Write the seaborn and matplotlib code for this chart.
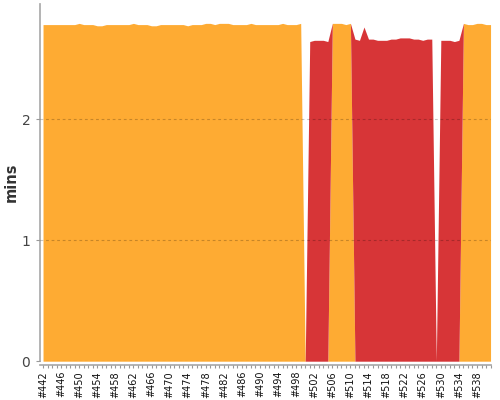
import numpy as np
import pandas as pd
import matplotlib
matplotlib.use("Agg")
import matplotlib.pyplot as plt
import seaborn as sns

sns.set_theme(style="white")
plt.rcParams["font.family"] = ["DejaVu Sans"]

# ── Build data (#442 .. #541) ──────────────────────────
builds = list(range(442, 542))

# duration in minutes
durations = (
    [2.78, 2.78, 2.78, 2.78, 2.78, 2.78, 2.78, 2.78, 2.79, 2.78,
     2.78, 2.78, 2.77, 2.77, 2.78, 2.78, 2.78, 2.78, 2.78, 2.78,
     2.79, 2.78, 2.78, 2.78, 2.77, 2.77, 2.78, 2.78, 2.78, 2.78,
     2.78, 2.78, 2.77, 2.78, 2.78, 2.78, 2.79, 2.79, 2.78, 2.79,
     2.79, 2.79, 2.78, 2.78, 2.78, 2.78, 2.79, 2.78, 2.78, 2.78,
     2.78, 2.78, 2.78, 2.79, 2.78, 2.78, 2.78, 2.79]      # 442-499
    + [0.0]                                               # 500
    + [2.64, 2.65, 2.65, 2.65, 2.64]                      # 501-505
    + [2.79, 2.79, 2.79, 2.78, 2.79]                      # 506-510
    + [2.66, 2.65, 2.76, 2.66, 2.66, 2.65, 2.65, 2.65, 2.66,
       2.66, 2.67, 2.67, 2.67, 2.66, 2.66, 2.65, 2.66, 2.66]  # 511-528
    + [0.0]                                               # 529
    + [2.65, 2.65, 2.65, 2.64, 2.65]                      # 530-534
    + [2.79, 2.78, 2.78, 2.79, 2.79, 2.78, 2.78]          # 535-541
)

status = (
    ["unstable"] * 58 + ["none"] + ["failed"] * 5 + ["unstable"] * 5
    + ["failed"] * 18 + ["none"] + ["failed"] * 5 + ["unstable"] * 7
)

df = pd.DataFrame({"build": builds, "mins": durations, "status": status})
df["failed"] = np.where(df["status"] == "failed", df["mins"], 0.0)
df["unstable"] = np.where(df["status"] == "unstable", df["mins"], 0.0)

# ── Plot ───────────────────────────────────────────────
fig = plt.figure(figsize=(5, 4), dpi=100)
ax = fig.add_axes([0.08, 0.097, 0.902, 0.893])

xs = np.arange(len(df))
ax.stackplot(xs, df["unstable"], df["failed"],
             colors=["#FEAB33", "#D73537"], linewidth=0, antialiased=True)

ax.set_xlim(-0.67, len(df) - 0.9)
ax.set_ylim(0, 2.95)

ax.set_yticks([0, 1, 2])
ax.set_yticklabels(["0", "1", "2"])
ax.yaxis.grid(True, linestyle=(0, (2.5, 2.5)), color="black", alpha=0.22, lw=0.8)
ax.xaxis.grid(False)
ax.set_axisbelow(False)

ax.set_xticks(xs[::4])
ax.set_xticklabels([f"#{b}" for b in df["build"][::4]])
ax.set_xticks(xs, minor=True)

ax.tick_params(axis="x", which="both", direction="out", length=2.5, width=0.8,
               color="#999999", pad=1.5, bottom=True)
ax.tick_params(axis="x", which="major", labelrotation=90, labelsize=7,
               labelcolor="#111111")
ax.tick_params(axis="y", direction="out", length=3, width=0.8,
               color="#999999", labelsize=10, labelcolor="#444444", pad=4, left=True)

for side in ["top", "right"]:
    ax.spines[side].set_visible(False)
ax.spines["left"].set_color("#aaaaaa")
ax.spines["bottom"].set_color("#aaaaaa")
ax.spines["bottom"].set_position(("outward", 3))

ax.set_ylabel("mins", fontsize=10.5, fontweight="bold", color="#333333", labelpad=2)
ax.set_xlabel("")

plt.savefig("out.png", dpi=100)
